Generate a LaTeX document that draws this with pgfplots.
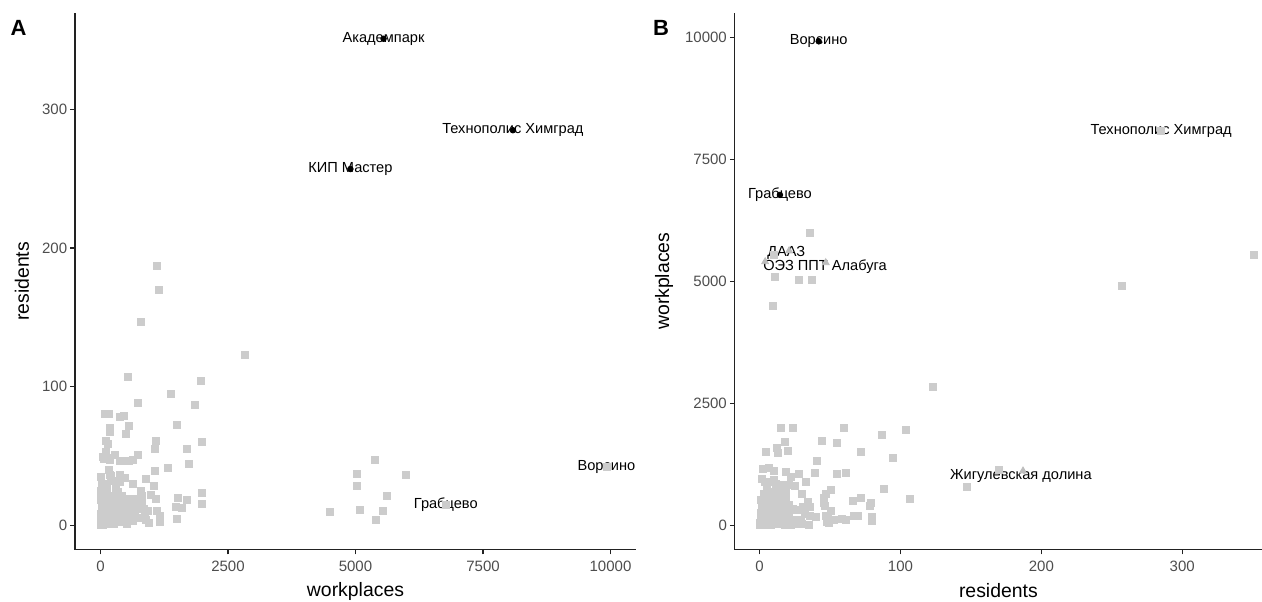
\documentclass[border=0pt]{standalone}
\usepackage{fontspec}
\setmainfont{Liberation Sans}
\usepackage{pgfplots}
\pgfplotsset{compat=1.18}
\usepackage{pgfplotstable}
\definecolor{ptgrey}{HTML}{CCCCCC}
\definecolor{trigrey}{HTML}{BDBDBD}
\definecolor{ticktext}{HTML}{4D4D4D}
\definecolor{axcol}{HTML}{222222}

% general points: workplaces, residents
\pgfplotstableread{
wp res
1140 170
790 147
2830 123
530 107
1960 104
1380 95
740 88
1860 87
1500 72
1990 60
1690 55
1060 55
1080 61
1730 44
1070 39
1320 41
1990 23.5
1990 15
1520 20
1700 18
1590 12.5
1475 13
1110 10
1160 2.5
1170 6.5
1500 4.5
680 6.5
780 5.5
880 6.5
590 14
750 14
845 11.5
815 16
800 25
820 21
990 22
1090 19
630 30
1055 28
890 33
470 34
380 36
160 40
195 35.5
100 53
50 49.5
65 47.6
130 48.8
290 51
390 46.4
455 46
550 46
640 47
730 51
80 80
160 80
390 78
455 79
180 70
550 71.6
500 66
115 61
80 29.6
310 27.6
340 24
374 31
184 36
225 32
116 27
184 47
137 58.5
184 67
955 1.5
885 4
920 10
820 12
5020 37
5020 28
5990 36
4500 9.5
5080 11
5540 10
0 0
20 2
40 5
10 8
30 12
50 15
5 18
60 3
80 7
100 1
120 10
90 14
70 20
150 4
140 9
170 13
200 2
180 17
220 6
250 11
230 20
260 1
280 15
300 4
320 9
340 18
360 2
380 12
400 6
420 21
440 3
460 14
480 8
500 18
520 1
550 11
580 5
600 16
630 3
660 9
15 25
45 22
110 24
160 21
35 10
55 0
75 11
95 5
130 16
190 8
210 12
270 5
310 22
350 7
410 16
25 30
5 35
0 4
10 1
30 6
60 9
20 15
40 19
65 13
85 17
100 21
105 8
125 3
145 14
165 6
190 20
240 15
290 9
330 13
370 17
430 9
470 19
520 6
560 19
610 8
650 14
700 19
20 11
45 7
10 22
}\common

% points shown as grey squares in A only
\pgfplotstableread{
wp res
9920 42
6770 14.5
5624 21
5380 47
5400 4
1110 187
}\sqA
% highlighted in A
\pgfplotstableread{
wp res
5550 351
8086 285
4900 257
}\dotA
% highlighted in B
\pgfplotstableread{
wp res
9920 42
6770 14.5
}\dotB
% triangles in B
\pgfplotstableread{
wp res
5624 21
5380 47
5400 4
1110 187
}\triB

\pgfplotsset{
  gg/.style={
    scale only axis,
    axis lines=left,
    axis line style={-, line width=0.6pt, color=axcol},
    every outer x axis line/.append style={-},
    every outer y axis line/.append style={-},
    tick align=outside,
    tick pos=left,
    major tick length=2.4pt,
    scaled ticks=false,
    every tick/.style={color=axcol, line width=0.55pt},
    tick label style={font=\fontsize{7.5}{9}\selectfont, text=ticktext},
    yticklabel style={xshift=2pt},
    label style={font=\fontsize{9.7}{11}\selectfont, text=black},
    xlabel style={at={(axis description cs:0.5,0)}, anchor=center, yshift=-20.75pt},
    clip=false,
  },
}
\tikzset{lab/.style={font=\fontsize{7.3}{8}\selectfont, inner sep=0pt, anchor=center, text=black}}

\begin{document}
\begin{tikzpicture}[x=1pt,y=1pt]
\path[use as bounding box] (0,0) rectangle (631,300.5);
\node[font=\bfseries\fontsize{11}{13}\selectfont] at (9.25,286.5) {A};
\node[font=\bfseries\fontsize{11}{13}\selectfont] at (330.5,286.5) {B};

\begin{axis}[gg, at={(37.5pt,25.75pt)}, anchor=south west,
  width=280.5pt, height=268.25pt,
  xmin=-500, xmax=10500, ymin=-17.6, ymax=369.6,
  xtick={0,2500,5000,7500,10000}, xticklabels={0,2500,5000,7500,10000},
  ytick={0,100,200,300}, yticklabels={0,100,200,300},
  xlabel={workplaces}, ylabel={residents},
  ylabel style={at={(axis description cs:-0.0945,0.5)}, anchor=center}]
\addplot[only marks, mark=square*, mark size=1.75pt, color=ptgrey] table[x=wp,y=res]{\common};
\addplot[only marks, mark=square*, mark size=1.75pt, color=ptgrey] table[x=wp,y=res]{\sqA};
\addplot[only marks, mark=*, mark size=1.4pt, color=black] table[x=wp,y=res]{\dotA};
\node[lab] at (axis cs:5550,351) {Академпарк};
\node[lab] at (axis cs:8086,285) {Технополис Химград};
\node[lab] at (axis cs:4900,257) {КИП Мастер};
\node[lab] at (axis cs:9920,42) {Ворсино};
\node[lab] at (axis cs:6770,14.5) {Грабцево};
\end{axis}

\begin{axis}[gg, at={(367.35pt,25.75pt)}, anchor=south west,
  width=263.65pt, height=268.25pt,
  xmin=-17.6, xmax=356.6, ymin=-500, ymax=10500,
  xtick={0,100,200,300}, xticklabels={0,100,200,300},
  ytick={0,2500,5000,7500,10000}, yticklabels={0,2500,5000,7500,10000},
  xlabel={residents}, ylabel={workplaces},
  ylabel style={at={(axis description cs:-0.134,0.5)}, anchor=center}]
\addplot[only marks, mark=square*, mark size=1.75pt, color=ptgrey] table[x=res,y=wp]{\common};
\addplot[only marks, mark=square*, mark size=1.75pt, color=ptgrey] table[x=res,y=wp]{\dotA};
\addplot[only marks, mark=triangle*, mark size=2pt, color=trigrey] table[x=res,y=wp]{\triB};
\addplot[only marks, mark=*, mark size=1.4pt, color=black] table[x=res,y=wp]{\dotB};
\node[lab] at (axis cs:42,9920) {Ворсино};
\node[lab] at (axis cs:285,8086) {Технополис Химград};
\node[lab] at (axis cs:14.5,6770) {Грабцево};
\node[lab] at (axis cs:19,5590) {ДААЗ};
\node[lab] at (axis cs:46.5,5300) {ОЭЗ ППТ Алабуга};
\node[lab] at (axis cs:185.5,1000) {Жигулевская долина};
\end{axis}
\end{tikzpicture}
\end{document}
